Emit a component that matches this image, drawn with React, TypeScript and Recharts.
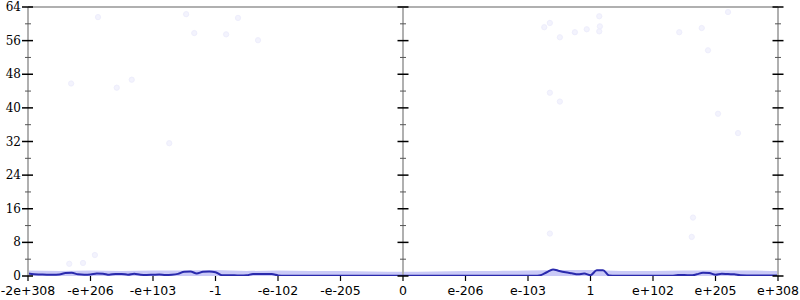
import {
  ComposedChart,
  Line,
  Area,
  Scatter,
  XAxis,
  YAxis,
  ReferenceLine,
} from "recharts";

// x positions are in tick units (0 .. 12), one tick per label
const xTickLabels = [
  "-2e+308",
  "-e+206",
  "-e+103",
  "-1",
  "-e-102",
  "-e-205",
  "0",
  "e-206",
  "e-103",
  "1",
  "e+102",
  "e+205",
  "e+308",
];
const xTicks = xTickLabels.map((_, i) => i);
const yTicks = [0, 4, 8, 12, 16, 20, 24, 28, 32, 36, 40, 44, 48, 52, 56, 60, 64];

// histogram counts, one bin every 0.1 tick unit
const counts = [
  0.6, 0.4, 0.35, 0.3, 0.3, 0.35, 0.7, 0.75, 0.4, 0.3,
  0.35, 0.6, 0.55, 0.3, 0.5, 0.5, 0.3, 0.55, 0.3, 0.25,
  0.3, 0.35, 0.25, 0.3, 0.5, 1.0, 1.05, 0.6, 1.0, 1.05,
  0.9, 0.2, 0.15, 0.15, 0.1, 0.15, 0.5, 0.5, 0.45, 0.45,
  0.15, 0.05, 0.05, 0.05, 0.05, 0.05, 0.05, 0.05, 0.05, 0.05,
  0.05, 0.05, 0.05, 0.05, 0.05, 0.05, 0.05, 0.05, 0.05, 0.05,
  0.05, 0.05, 0.05, 0.05, 0.05, 0.05, 0.05, 0.05, 0.05, 0.05,
  0.05, 0.05, 0.05, 0.05, 0.05, 0.05, 0.05, 0.05, 0.05, 0.05,
  0.05, 0.05, 0.2, 0.9, 1.55, 1.2, 0.9, 0.65, 0.4, 0.6,
  0.2, 1.35, 1.35, 0.1, 0.05, 0.05, 0.05, 0.05, 0.05, 0.05,
  0.05, 0.05, 0.05, 0.05, 0.25, 0.25, 0.15, 0.4, 0.75, 0.7,
  0.3, 0.55, 0.45, 0.4, 0.15, 0.12, 0.12, 0.12, 0.12, 0.12,
  0.12,
];

// faint spread band under the histogram, one value every 0.5 tick unit
const bandX = [
  0, 0.5, 1, 1.5, 2, 2.5, 3, 3.5, 4, 4.5, 5, 5.5, 6, 6.5, 7, 7.5, 8, 8.5, 9,
  9.5, 10, 10.5, 11, 11.5, 12,
];
const bandTop = [
  1.3, 1.2, 1.3, 1.2, 1.3, 1.3, 1.4, 1.2, 1.3, 1.2, 1.2, 1.1, 1.0, 1.1, 1.2,
  1.2, 1.3, 1.4, 1.4, 1.2, 1.2, 1.3, 1.3, 1.3, 1.2,
];

// sparse samples above the band
const sampleX = [
  1.12, 2.53, 2.66, 0.69, 1.42, 1.66, 2.26, 0.66, 0.88, 1.07, 3.36, 3.17, 3.68,
  8.26, 8.35, 8.51, 8.75, 8.94, 9.14, 9.15, 9.14, 10.42, 10.78, 11.2, 10.88,
  8.35, 8.51, 11.04, 11.36, 10.64, 10.62, 8.35,
];
const sampleY = [
  61.6, 62.3, 57.8, 45.8, 44.8, 46.7, 31.6, 2.9, 3.1, 5.0, 61.4, 57.5, 56.1,
  59.2, 60.2, 56.8, 58.0, 58.7, 61.8, 59.4, 58.2, 58.0, 59.0, 62.8, 53.7,
  43.6, 41.5, 38.6, 34.0, 13.9, 9.3, 10.1,
];

const histData = counts.map((c, i) => ({ x: i / 10, count: c }));
const bandData = bandX.map((x, i) => ({ x, band: bandTop[i] }));
const sampleData = sampleX.map((x, i) => ({ x, y: sampleY[i] }));

const W = 800;
const H = 300;
const PLOT_W = 750;
const AXIS_GRAY = "#b0b0b0";
const LINE_BLUE = "#2a2aad";

function LeftTick(props: any) {
  const { x, y, payload } = props;
  const major = payload.value % 8 === 0;
  const mid = x + PLOT_W / 2;
  return (
    <g>
      {major ? (
        <>
          <line x1={x - 6} x2={x + 5} y1={y} y2={y} stroke="#000" strokeWidth={1.5} />
          <line x1={mid - 5.5} x2={mid + 5.5} y1={y} y2={y} stroke="#000" strokeWidth={1.5} />
          <text
            x={x - 7}
            y={y + 4}
            textAnchor="end"
            fontSize={12}
            fontFamily="'DejaVu Serif', serif"
            fill="#000"
          >
            {payload.value}
          </text>
        </>
      ) : (
        <>
          <line x1={x - 3} x2={x + 3} y1={y} y2={y} stroke="#555" strokeWidth={1} />
          <line x1={mid - 3} x2={mid + 3} y1={y} y2={y} stroke="#555" strokeWidth={1} />
        </>
      )}
    </g>
  );
}

function RightTick(props: any) {
  const { x, y, payload } = props;
  const major = payload.value % 8 === 0;
  return major ? (
    <line x1={x - 5.5} x2={x + 5.5} y1={y} y2={y} stroke="#000" strokeWidth={1.5} />
  ) : (
    <line x1={x - 3} x2={x + 3} y1={y} y2={y} stroke="#555" strokeWidth={1} />
  );
}

export default function App() {
  return (
    <div style={{ position: "absolute", left: 0, top: 0, width: W, height: H, background: "#fff" }}>
      <ComposedChart
        width={W}
        height={H}
        data={histData}
        margin={{ top: 7, right: 0, bottom: 0, left: 0 }}
      >
        <XAxis
          dataKey="x"
          type="number"
          domain={[0, 12]}
          ticks={xTicks}
          interval={0}
          allowDataOverflow
          tickFormatter={(v) => xTickLabels[v] ?? ""}
          axisLine={false}
          tickLine={{ stroke: "#000", strokeWidth: 1.2 }}
          tickSize={5}
          tickMargin={5}
          height={24}
          tick={{ fontSize: 12.5, fill: "#000", fontFamily: "'DejaVu Sans', sans-serif" }}
        />
        <YAxis
          yAxisId="l"
          type="number"
          domain={[0, 64]}
          ticks={yTicks}
          interval={0}
          width={28}
          allowDataOverflow
          axisLine={{ stroke: AXIS_GRAY, strokeWidth: 2 }}
          tickLine={false}
          tickSize={0}
          tickMargin={0}
          tick={<LeftTick />}
        />
        <YAxis
          yAxisId="r"
          orientation="right"
          type="number"
          domain={[0, 64]}
          ticks={yTicks}
          interval={0}
          width={22}
          allowDataOverflow
          axisLine={{ stroke: AXIS_GRAY, strokeWidth: 2 }}
          tickLine={false}
          tickSize={0}
          tickMargin={0}
          tick={<RightTick />}
        />
        <ReferenceLine yAxisId="l" y={64} stroke={AXIS_GRAY} strokeWidth={2} />
        <ReferenceLine yAxisId="l" x={6} stroke={AXIS_GRAY} strokeWidth={2} />
        <Area
          yAxisId="l"
          data={bandData}
          dataKey="band"
          type="monotone"
          stroke="none"
          fill="#5a5ae6"
          fillOpacity={0.32}
          isAnimationActive={false}
        />
        <Scatter
          yAxisId="l"
          data={sampleData}
          dataKey="y"
          fill="#f3f3fd"
          shape={(p: any) => (
            <circle cx={p.cx} cy={p.cy} r={2.6} fill="#f3f3fd" stroke="#eeeefc" />
          )}
          isAnimationActive={false}
        />
        <Line
          yAxisId="l"
          dataKey="count"
          type="monotone"
          stroke={LINE_BLUE}
          strokeWidth={2}
          dot={false}
          isAnimationActive={false}
        />
      </ComposedChart>
    </div>
  );
}
